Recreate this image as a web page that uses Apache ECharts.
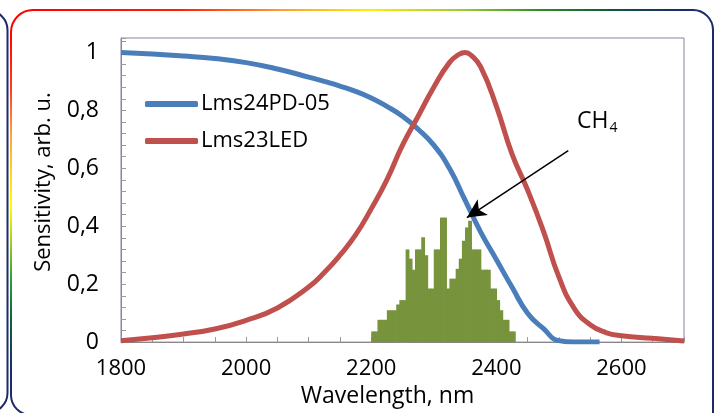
<!DOCTYPE html>
<html><head><meta charset="utf-8">
<script src="https://cdn.jsdelivr.net/npm/echarts@6/dist/echarts.min.js"></script>
<style>html,body{margin:0;padding:0;background:#fff}#c{width:715px;height:413px}</style>
</head><body><div id="c"></div>
<script>
const FONT = '"Open Sans", sans-serif';

// Photodiode sensitivity (Lms24PD-05)
const wavelengthPD = [1800,1850,1900,1950,2000,2050,2100,2125,2150,2175,2200,2225,2250,2275,2300,2325,2350,2375,2400,2425,2450,2475,2500,2525,2565];
const sensitivityPD = [1.0,0.995,0.988,0.979,0.965,0.943,0.915,0.9,0.884,0.866,0.843,0.814,0.78,0.735,0.68,0.6,0.49,0.38,0.285,0.19,0.1,0.047,0.005,0,0];

// LED emission (Lms23LED)
const wavelengthLED = [1800,1850,1900,1950,2000,2050,2100,2125,2150,2175,2200,2225,2250,2275,2300,2325,2340,2350,2360,2375,2400,2425,2450,2475,2500,2525,2550,2575,2600,2650,2700];
const sensitivityLED = [0.005,0.015,0.028,0.045,0.075,0.118,0.19,0.24,0.3,0.37,0.46,0.56,0.68,0.78,0.88,0.965,0.993,1.0,0.99,0.95,0.815,0.65,0.525,0.385,0.225,0.115,0.06,0.033,0.022,0.013,0.004];

// CH4 absorption histogram
const ch4Wavelength = [2203,2208,2213,2218,2223,2228,2233,2238,2243,2248,2253,2258,2263,2268,2273,2278,2283,2288,2293,2298,2303,2308,2313,2318,2323,2328,2333,2338,2343,2348,2353,2358,2363,2368,2373,2378,2383,2388,2393,2398,2403,2408,2413,2418,2423,2428];
const ch4Absorption = [0.037,0.037,0.077,0.077,0.077,0.11,0.11,0.11,0.13,0.145,0.145,0.32,0.288,0.25,0.32,0.32,0.362,0.3,0.185,0.185,0.32,0.32,0.43,0.43,0.185,0.219,0.219,0.253,0.288,0.35,0.396,0.419,0.32,0.32,0.32,0.25,0.25,0.25,0.185,0.185,0.145,0.11,0.077,0.077,0.037,0.037];

const xTickLabels = [1800,2000,2200,2400,2600];
const yTickLabels = [0,0.2,0.4,0.6,0.8,1];

// CH4 annotation arrow (data coordinates)
const arrowTail = [2515, 0.661];
const arrowHead = [2353, 0.43];

const zip = (xs, ys) => xs.map((x, i) => [x, ys[i]]);
const NAVY = '#1b2a6b';

const chart = echarts.init(document.getElementById('c'));

const topGrad = new echarts.graphic.LinearGradient(33, 0, 693, 0, [
  {offset:0, color:'#ff0000'}, {offset:0.22, color:'#ff2000'}, {offset:0.374, color:'#ff9a30'},
  {offset:0.51, color:'#ffee00'}, {offset:0.65, color:'#9acd32'}, {offset:0.77, color:'#2e8b22'},
  {offset:0.874, color:'#0f5a3a'}, {offset:0.98, color:NAVY}, {offset:1, color:NAVY}], true);
const leftGrad = new echarts.graphic.LinearGradient(0, 32, 0, 395, [
  {offset:0, color:'#ff0000'}, {offset:0.16, color:'#ff4020'}, {offset:0.28, color:'#ffa040'},
  {offset:0.48, color:'#ffff00'}, {offset:0.57, color:'#b0d020'}, {offset:0.68, color:'#30a030'},
  {offset:0.79, color:'#106040'}, {offset:0.93, color:NAVY}, {offset:1, color:NAVY}], true);

const option = {
  animation: false,
  grid: {left:121, right:31, top:38, bottom:69, show:true, borderColor:'#8585a8', borderWidth:1},
  legend: {
    data: ['Lms24PD-05','Lms23LED'], orient:'vertical', left:140, top:88, itemGap:15,
    icon:'roundRect', itemWidth:53, itemHeight:6, itemStyle:{borderWidth:0},
    textStyle:{fontFamily:FONT, fontSize:22, color:'#000', padding:[0,0,0,-2]}
  },
  xAxis: {
    type:'value', min:1800, max:2700, interval:50,
    name:'Wavelength, nm', nameLocation:'middle', nameGap:42,
    nameTextStyle:{fontFamily:FONT, fontSize:23, color:'#000', padding:[0,30,0,0]},
    axisLine:{lineStyle:{color:'#888', width:1}},
    axisTick:{inside:true, length:5, lineStyle:{color:'#999'}},
    splitLine:{show:false},
    axisLabel:{margin:16, fontFamily:FONT, fontSize:22, color:'#000',
      formatter: v => xTickLabels.includes(v) ? String(v) : ''}
  },
  yAxis: {
    type:'value', min:0, max:1.05, interval:0.04,
    name:'Sensitivity, arb. u.', nameLocation:'middle', nameGap:66,
    nameTextStyle:{fontFamily:FONT, fontSize:22, color:'#000', padding:[0,0,0,16]},
    axisLine:{show:true, lineStyle:{color:'#888', width:1}},
    axisTick:{inside:true, length:5, lineStyle:{color:'#999'}},
    splitLine:{show:false},
    axisLabel:{margin:22, fontFamily:FONT, fontSize:23, color:'#000',
      formatter: v => {
        const t = yTickLabels.find(t => Math.abs(t - v) < 1e-6);
        return t === undefined ? '' : String(t).replace('.', ',');
      }}
  },
  series: [
    {type:'bar', name:'CH4', data: zip(ch4Wavelength, ch4Absorption), barWidth:3.8,
      itemStyle:{color:'#77933C'}, silent:true},
    {type:'line', name:'Lms24PD-05', data: zip(wavelengthPD, sensitivityPD), smooth:0.5,
      symbol:'none', color:'#4a7ebb', lineStyle:{width:5, color:'#4a7ebb'}, itemStyle:{color:'#4a7ebb'}},
    {type:'line', name:'Lms23LED', data: zip(wavelengthLED, sensitivityLED), smooth:0.5,
      symbol:'none', color:'#c0504d', lineStyle:{width:5, color:'#c0504d'}, itemStyle:{color:'#c0504d'},
      markLine:{silent:true, symbol:['none','arrow'], symbolSize:[14,19], label:{show:false},
        lineStyle:{color:'#000', width:1.5, type:'solid'}, emphasis:{disabled:true},
        data:[[{coord:arrowTail}, {coord:arrowHead}]]}}
  ],
  graphic: [
    // left neighbouring frame
    {type:'line', silent:true, shape:{x1:7.5, y1:30, x2:7.5, y2:393}, style:{stroke:NAVY, lineWidth:2}},
    {type:'arc', silent:true, shape:{cx:-12, cy:30, r:19.5, startAngle:0, endAngle:-Math.PI/2, clockwise:false}, style:{stroke:NAVY, fill:null, lineWidth:2}},
    {type:'arc', silent:true, shape:{cx:-12, cy:393, r:19.5, startAngle:0, endAngle:Math.PI/2, clockwise:true}, style:{stroke:NAVY, fill:null, lineWidth:2}},
    // chart panel frame
    {type:'arc', silent:true, shape:{cx:33, cy:32, r:22, startAngle:Math.PI, endAngle:1.5*Math.PI, clockwise:true}, style:{stroke:'#ff0000', fill:null, lineWidth:2}},
    {type:'line', silent:true, shape:{x1:33, y1:10, x2:694, y2:10}, style:{stroke:topGrad, lineWidth:2}},
    {type:'line', silent:true, shape:{x1:11, y1:32, x2:11, y2:395}, style:{stroke:leftGrad, lineWidth:2}},
    {type:'arc', silent:true, shape:{cx:693, cy:30, r:20, startAngle:1.5*Math.PI, endAngle:2*Math.PI, clockwise:true}, style:{stroke:NAVY, fill:null, lineWidth:2}},
    {type:'line', silent:true, shape:{x1:713, y1:30, x2:713, y2:413}, style:{stroke:NAVY, lineWidth:2}},
    {type:'arc', silent:true, shape:{cx:31, cy:395, r:20, startAngle:Math.PI, endAngle:Math.PI/2, clockwise:false}, style:{stroke:NAVY, fill:null, lineWidth:2}},
    // CH4 label
    {type:'text', silent:true, style:{text:'CH', x:577, y:121.5, textVerticalAlign:'middle', fill:'#000', font:'23px ' + FONT}},
    {type:'text', silent:true, style:{text:'4', x:609.5, y:128, textVerticalAlign:'middle', fill:'#000', font:'14px ' + FONT}}
  ]
};
chart.setOption(option);
</script>
</body></html>
